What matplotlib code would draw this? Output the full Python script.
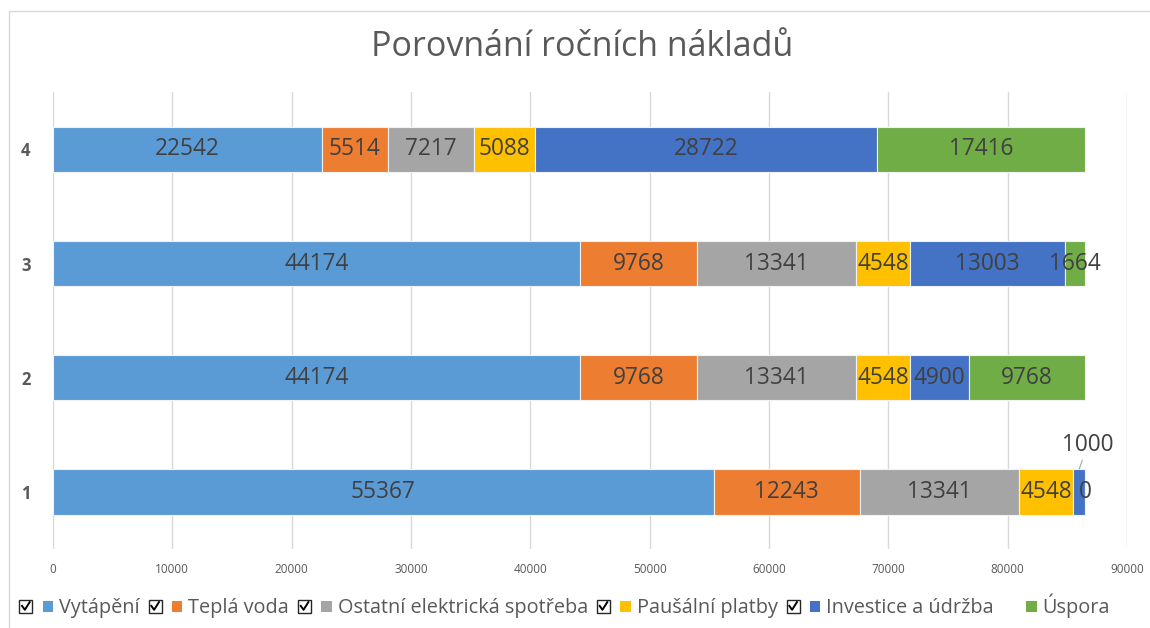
import matplotlib
matplotlib.use("Agg")
import matplotlib.pyplot as plt
from matplotlib.legend_handler import HandlerBase
from matplotlib.patches import Rectangle
from matplotlib.lines import Line2D
import numpy as np

plt.rcParams['font.family'] = ['Open Sans', 'DejaVu Sans']

# data
categories = ['1', '2', '3', '4']
series_names = ['Vytápění', 'Teplá voda', 'Ostatní elektrická spotřeba',
                'Paušální platby', 'Investice a údržba', 'Úspora']
vytapeni = [55367, 44174, 44174, 22542]
tepla_voda = [12243, 9768, 9768, 5514]
ostatni = [13341, 13341, 13341, 7217]
pausalni = [4548, 4548, 4548, 5088]
investice = [1000, 4900, 13003, 28722]
uspora = [0, 9768, 1664, 17416]
checked = [True, True, True, True, True, False]
xticks = [0, 10000, 20000, 30000, 40000, 50000, 60000, 70000, 80000, 90000]

colors = ['#5B9BD5', '#ED7D31', '#A5A5A5', '#FFC000', '#4472C4', '#70AD47']
text_col = '#404040'
axis_col = '#595959'

fig = plt.figure(figsize=(11.5, 6.28), dpi=100)
ax = fig.add_axes([0.046, 0.126, 0.934, 0.727])

# chart frame
fig.add_artist(Line2D([9/1150, 1.0], [1-11/628]*2, color='#D9D9D9', lw=1,
                      transform=fig.transFigure))
fig.add_artist(Line2D([9/1150]*2, [0, 1-11/628], color='#D9D9D9', lw=1,
                      transform=fig.transFigure))

y = np.arange(1, len(categories) + 1)
left = np.zeros(len(categories))
all_series = [vytapeni, tepla_voda, ostatni, pausalni, investice, uspora]
containers = []
for name, vals, c in zip(series_names, all_series, colors):
    vals = np.array(vals, dtype=float)
    bc = ax.barh(y, vals, left=left, height=0.4, color=c, label=name,
                 edgecolor='#F2F2F2', linewidth=0.8, zorder=3)
    labels = [str(int(v)) for v in vals]
    if name == 'Investice a údržba':
        # small first segment label sits above with leader line
        ax.annotate(labels[0], xy=(left[0] + vals[0] / 2, y[0] + 0.2),
                    xytext=(6, 17), textcoords='offset points',
                    ha='center', va='center', fontsize=16.3, color=text_col,
                    arrowprops=dict(arrowstyle='-', color='#A6A6A6', lw=0.8,
                                    shrinkA=8, shrinkB=0))
        labels[0] = ''
    ax.bar_label(bc, labels=labels, label_type='center', fontsize=16.3,
                 color=text_col)
    left += vals
    containers.append(bc)

ax.set_xlim(0, 90000)
ax.set_ylim(0.5, 4.5)
ax.set_xticks(xticks)
ax.set_xticklabels([str(t) for t in xticks])
ax.set_yticks(y)
ax.set_yticklabels(categories, fontweight='bold')
ax.tick_params(axis='x', length=0, labelsize=8.5, labelcolor=axis_col, pad=10)
ax.tick_params(axis='y', length=0, labelsize=12, labelcolor=axis_col, pad=16)
ax.grid(axis='x', color='#D9D9D9', lw=1, zorder=0)
for s in ax.spines.values():
    s.set_visible(False)

fig.text(0.506, 1 - 47/628, 'Porovnání ročních nákladů', ha='center',
         va='center', fontsize=24.5, color=axis_col)


class CheckHandler(HandlerBase):
    def __init__(self, checked):
        super().__init__()
        self.checked = checked

    def create_artists(self, legend, orig_handle, xdescent, ydescent,
                       width, height, fontsize, trans):
        arts = []
        cy = -ydescent + height / 2
        x0 = -xdescent
        if self.checked:
            b = 9.5
            arts.append(Rectangle((x0, cy - b / 2), b, b, facecolor='white',
                                  edgecolor='#262626', lw=1.0, transform=trans))
            arts.append(Line2D([x0 + 2.0, x0 + 4.0, x0 + 7.5],
                               [cy + 0.3, cy - 2.5, cy + 3.0],
                               color='#000000', lw=1.4, transform=trans))
        sq = 7.5
        arts.append(Rectangle((x0 + width - sq, cy - sq / 2), sq, sq,
                              facecolor=orig_handle.get_facecolor(),
                              edgecolor='none', transform=trans))
        return arts


handles = [bc.patches[0] for bc in containers]
hmap = {h: CheckHandler(c) for h, c in zip(handles, checked)}
ax.legend(handles, series_names, handler_map=hmap, loc='center',
          bbox_to_anchor=(0.491, 1 - 606/628), bbox_transform=fig.transFigure,
          ncol=6, frameon=False, fontsize=14.3, handlelength=1.7,
          handletextpad=0.3, columnspacing=0.45, labelcolor=axis_col)

fig.savefig('out.png', dpi=100)
